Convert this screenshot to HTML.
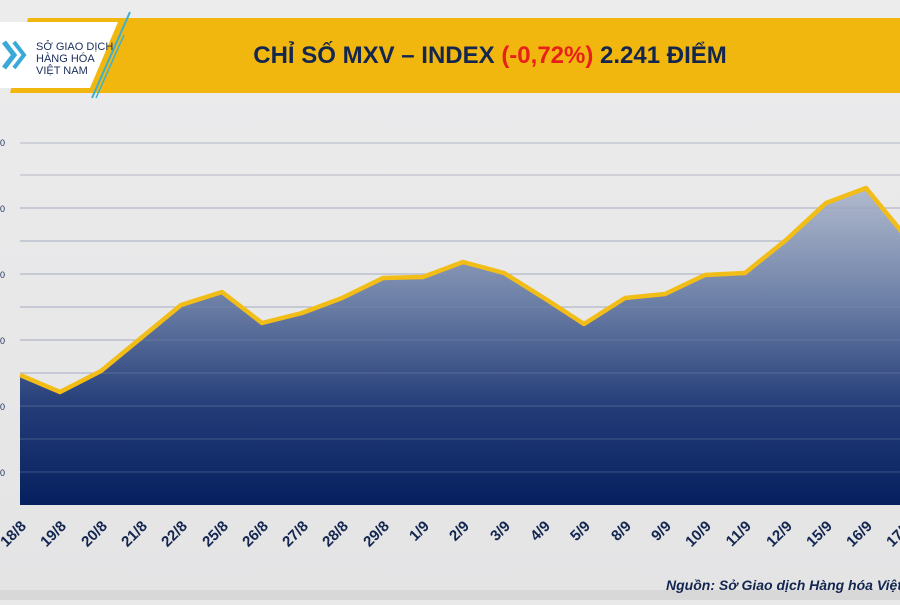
<!DOCTYPE html>
<html><head><meta charset="utf-8"><style>
body{margin:0;width:900px;height:600px;overflow:hidden;background:#e9e9ea;font-family:"Liberation Sans",sans-serif}
</style></head><body>
<svg width="900" height="600" viewBox="0 0 900 600" xmlns="http://www.w3.org/2000/svg">
<defs>
<linearGradient id="g" gradientUnits="userSpaceOnUse" x1="0" y1="185" x2="0" y2="505">
<stop offset="0" stop-color="#b3bccf"/>
<stop offset="0.35" stop-color="#6f82a8"/>
<stop offset="0.7" stop-color="#233c78"/>
<stop offset="1" stop-color="#06205f"/>
</linearGradient>
<linearGradient id="bg" x1="0" y1="0" x2="0" y2="1">
<stop offset="0" stop-color="#ececed"/><stop offset="1" stop-color="#e4e4e5"/>
</linearGradient>
</defs>
<rect width="900" height="600" fill="url(#bg)"/>
<rect x="0" y="590" width="900" height="10" fill="#d8d8d8"/>
<!-- header -->
<polygon points="28,18 900,18 900,93 10,93" fill="#f2b70f"/>
<polygon points="0,22 118,22 90,88 0,88" fill="#ffffff"/>
<line x1="130" y1="12" x2="92" y2="98" stroke="#3bb0d0" stroke-width="2"/>
<line x1="124" y1="35" x2="96" y2="98" stroke="#3bb0d0" stroke-width="1.5"/>
<polyline points="4,42 14,55 4,68" fill="none" stroke="#3aa9d9" stroke-width="5"/>
<polyline points="14,42 24,55 14,68" fill="none" stroke="#3aa9d9" stroke-width="4"/>
<text x="36" y="50" font-size="11" fill="#1a2d5a">SỞ GIAO DỊCH</text>
<text x="36" y="62" font-size="11" fill="#1a2d5a">HÀNG HÓA</text>
<text x="36" y="74" font-size="11" fill="#1a2d5a">VIỆT NAM</text>
<text x="490" y="63" font-size="24" font-weight="bold" fill="#13264f" text-anchor="middle">CHỈ SỐ MXV – INDEX <tspan fill="#e8201a">(-0,72%)</tspan> 2.241 ĐIỂM</text>
<!-- grid -->
<g stroke="#b4b8c4" stroke-width="1">
<line x1="20" y1="143" x2="900" y2="143"/><line x1="20" y1="175" x2="900" y2="175"/>
<line x1="20" y1="208" x2="900" y2="208"/><line x1="20" y1="241" x2="900" y2="241"/>
<line x1="20" y1="274" x2="900" y2="274"/><line x1="20" y1="307" x2="900" y2="307"/>
<line x1="20" y1="340" x2="900" y2="340"/><line x1="20" y1="373" x2="900" y2="373"/>
<line x1="20" y1="406" x2="900" y2="406"/><line x1="20" y1="439" x2="900" y2="439"/>
<line x1="20" y1="472" x2="900" y2="472"/>
</g>
<g fill="#1a2d5a" font-size="9"><text x="0" y="146">0</text><text x="0" y="212">0</text><text x="0" y="278">0</text><text x="0" y="344">0</text><text x="0" y="410">0</text><text x="0" y="476">0</text></g>
<path d="M20,375 L60,392 L101,371 L141,338 L181,305 L222,292 L262,323 L302,313 L342,298 L383,278 L423,277 L463,262 L504,273 L544,298 L584,324 L625,298 L665,294 L705,275 L745,273 L786,240 L826,203 L866,188 L906,237 L906,505 L20,505 Z" fill="url(#g)"/>
<g stroke="#8b97b3" stroke-width="0.8" opacity="0.5">
<line x1="20" y1="340" x2="900" y2="340"/><line x1="20" y1="373" x2="900" y2="373"/>
<line x1="20" y1="406" x2="900" y2="406"/><line x1="20" y1="439" x2="900" y2="439"/><line x1="20" y1="472" x2="900" y2="472"/>
<line x1="20" y1="307" x2="900" y2="307"/><line x1="20" y1="274" x2="900" y2="274"/><line x1="20" y1="241" x2="900" y2="241"/><line x1="20" y1="208" x2="900" y2="208"/>
</g>
<polyline points="20,375 60,392 101,371 141,338 181,305 222,292 262,323 302,313 342,298 383,278 423,277 463,262 504,273 544,298 584,324 625,298 665,294 705,275 745,273 786,240 826,203 866,188 906,237" fill="none" stroke="#f2bd17" stroke-width="4.5" stroke-linejoin="round"/>
<g font-size="15" font-weight="bold" fill="#13264f" text-anchor="end">
<text transform="translate(27,527) rotate(-45)">18/8</text>
<text transform="translate(67,527) rotate(-45)">19/8</text>
<text transform="translate(108,527) rotate(-45)">20/8</text>
<text transform="translate(148,527) rotate(-45)">21/8</text>
<text transform="translate(188,527) rotate(-45)">22/8</text>
<text transform="translate(229,527) rotate(-45)">25/8</text>
<text transform="translate(269,527) rotate(-45)">26/8</text>
<text transform="translate(309,527) rotate(-45)">27/8</text>
<text transform="translate(349,527) rotate(-45)">28/8</text>
<text transform="translate(390,527) rotate(-45)">29/8</text>
<text transform="translate(430,527) rotate(-45)">1/9</text>
<text transform="translate(470,527) rotate(-45)">2/9</text>
<text transform="translate(511,527) rotate(-45)">3/9</text>
<text transform="translate(551,527) rotate(-45)">4/9</text>
<text transform="translate(591,527) rotate(-45)">5/9</text>
<text transform="translate(632,527) rotate(-45)">8/9</text>
<text transform="translate(672,527) rotate(-45)">9/9</text>
<text transform="translate(712,527) rotate(-45)">10/9</text>
<text transform="translate(752,527) rotate(-45)">11/9</text>
<text transform="translate(793,527) rotate(-45)">12/9</text>
<text transform="translate(833,527) rotate(-45)">15/9</text>
<text transform="translate(873,527) rotate(-45)">16/9</text>
<text transform="translate(913,527) rotate(-45)">17/9</text>
</g>
<text x="666" y="590" font-size="14" font-weight="bold" font-style="italic" fill="#13264f">Nguồn: Sở Giao dịch Hàng hóa Việt Nam</text>
</svg>
</body></html>
